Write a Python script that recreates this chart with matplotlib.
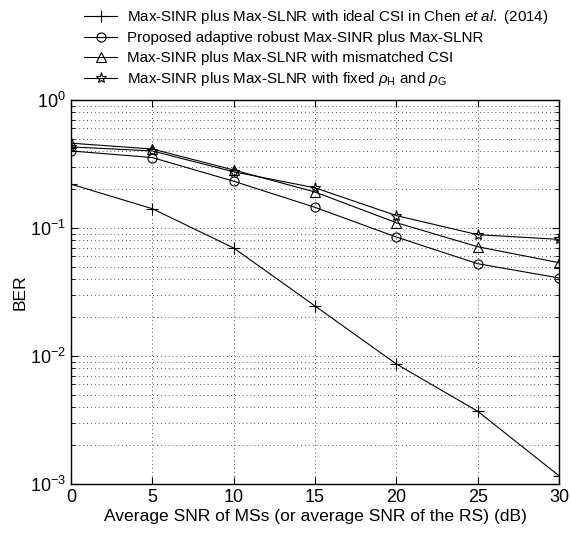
import matplotlib
matplotlib.use('Agg')
import matplotlib.pyplot as plt
from matplotlib.ticker import LogLocator, NullFormatter

plt.rcParams['font.family'] = ['Liberation Sans', 'DejaVu Sans']
plt.rcParams['mathtext.fontset'] = 'custom'
plt.rcParams['mathtext.rm'] = 'Liberation Sans'
plt.rcParams['mathtext.it'] = 'Liberation Sans:italic'
plt.rcParams['mathtext.bf'] = 'Liberation Sans:bold'

# data
snr = [0, 5, 10, 15, 20, 25, 30]
ber_ideal = [0.22, 0.1415, 0.0698, 0.0246, 0.00866, 0.0037, 0.00116]
ber_proposed = [0.40, 0.355, 0.232, 0.145, 0.085, 0.0526, 0.0407]
ber_mismatch = [0.46, 0.414, 0.284, 0.191, 0.110, 0.0714, 0.0536]
ber_fixed = [0.43, 0.40, 0.275, 0.206, 0.125, 0.0887, 0.0815]

labels = [
    r'Max-SINR plus Max-SLNR with ideal CSI in Chen $\mathit{et\ al.}$ (2014)',
    'Proposed adaptive robust Max-SINR plus Max-SLNR',
    'Max-SINR plus Max-SLNR with mismatched CSI',
    r'Max-SINR plus Max-SLNR with fixed $\rho_{\mathrm{H}}$ and $\rho_{\mathrm{G}}$',
]

fig = plt.figure(figsize=(5.71, 5.37), dpi=100)
ax = fig.add_axes([71/571, 1-484/537, 488/571, 384/537])

style = dict(color='black', linewidth=0.8, markerfacecolor='none',
             markeredgecolor='black', markeredgewidth=0.8)
ax.semilogy(snr, ber_ideal, marker='+', markersize=8, label=labels[0], **style)
ax.semilogy(snr, ber_proposed, marker='o', markersize=6.5, label=labels[1], **style)
ax.semilogy(snr, ber_mismatch, marker='^', markersize=7, label=labels[2], **style)
ax.semilogy(snr, ber_fixed, marker='*', markersize=8, label=labels[3], **style)

ax.set_xlim(0, 30)
ax.set_ylim(1e-3, 1)
ax.set_xticks([0, 5, 10, 15, 20, 25, 30])
ax.yaxis.set_major_locator(LogLocator(base=10, numticks=10))
ax.yaxis.set_minor_locator(LogLocator(base=10, subs=range(2, 10), numticks=10))
ax.yaxis.set_minor_formatter(NullFormatter())

ax.grid(True, which='major', linestyle=(0, (1, 3)), color='#555555', linewidth=0.7)
ax.grid(True, which='minor', axis='y', linestyle=(0, (1, 3)), color='#555555', linewidth=0.7)
ax.tick_params(which='both', direction='in', top=True, right=True, labelsize=13)
ax.tick_params(which='major', length=5)
ax.tick_params(which='minor', length=3)
for sp in ax.spines.values():
    sp.set_linewidth(1.0)

ax.set_xlabel('Average SNR of MSs (or average SNR of the RS) (dB)', fontsize=12.6, labelpad=2)
ax.set_ylabel('BER', fontsize=12.6, labelpad=2)

fig.legend(loc='upper left', bbox_to_anchor=(84/571, 1-8/537), frameon=False,
           fontsize=10.9, handlelength=2.2, handletextpad=0.65, labelspacing=0.36,
           borderaxespad=0, borderpad=0)

fig.savefig('out.png', dpi=100)
plt.close(fig)
